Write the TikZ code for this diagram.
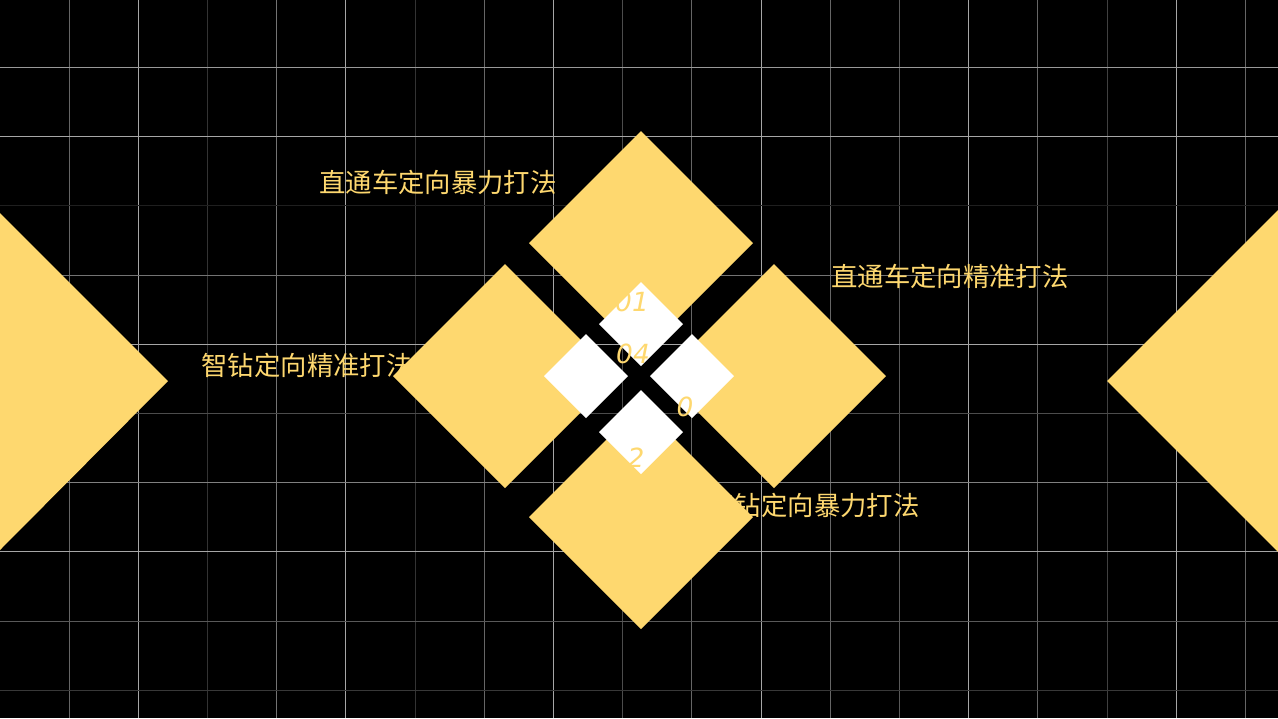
\documentclass[tikz,border=0pt]{standalone}
\usepackage{fontspec}
\newfontfamily\cjk{Noto Sans CJK SC}
\newfontfamily\numfont{DejaVu Sans}
\definecolor{gold}{HTML}{FED86F}
\tikzset{
  gridline/.style={draw=white!#1!black, line width=0.02cm},
  bigtile/.style={fill=gold},
  smalltile/.style={fill=white},
  caption/.style={text=gold, font=\cjk\fontsize{15}{18}\selectfont, inner sep=0pt},
  number/.style={text=gold, font=\numfont\itshape\fontsize{15}{17}\selectfont, inner sep=0pt}
}
\begin{document}
\begin{tikzpicture}[x=0.02cm, y=-0.02cm]
	\fill[black] (0,0) rectangle (1278,718);
	\useasboundingbox (0,0) rectangle (1278,718);
	% grid
	\foreach \k/\b [evaluate=\k as \gx using {int(69.2*\k)+0.5}] in {1/40,2/65,3/20,4/45,5/65,6/20,7/40,8/65,9/30,10/40,11/65,12/40,13/35,14/65,15/40,16/25,17/65,18/40}
		\draw[gridline=\b] (\gx,0) -- (\gx,718);
	\foreach \j/\b [evaluate=\j as \gy using {int(67.5+69.2*(\j-1))+0.5}] in {1/60,2/65,3/12,4/45,5/65,6/30,7/50,8/65,9/35,10/22}
		\draw[gridline=\b] (0,\gy) -- (1278,\gy);
	% captions
	\node[caption] (ztc-bl) at (438,182) {直通车定向暴力打法};
	\node[caption] (ztc-jz) at (950,276) {直通车定向精准打法};
	\node[caption] (zz-jz) at (307,365) {智钻定向精准打法};
	\node[caption] (zz-bl) at (814,505) {智钻定向暴力打法};
	% side tiles
	\fill[bigtile] (0,213) -- (168,381) -- (0,550) -- cycle;
	\fill[bigtile] (1278,210) -- (1107,381) -- (1278,552) -- cycle;
	% big tiles
	\fill[bigtile] (641,131) -- (753,243) -- (641,355) -- (529,243) -- cycle;
	\fill[bigtile] (505,264) -- (617,376) -- (505,488) -- (393,376) -- cycle;
	\fill[bigtile] (774,264) -- (886,376) -- (774,488) -- (662,376) -- cycle;
	\fill[bigtile] (641,405) -- (753,517) -- (641,629) -- (529,517) -- cycle;
	% small tiles
	\fill[smalltile] (641,282) -- (683,324) -- (641,366) -- (599,324) -- cycle;
	\fill[smalltile] (586,334) -- (628,376) -- (586,418) -- (544,376) -- cycle;
	\fill[smalltile] (692,334) -- (734,376) -- (692,418) -- (650,376) -- cycle;
	\fill[smalltile] (641,390) -- (683,432) -- (641,474) -- (599,432) -- cycle;
	% numbers
	\node[number] (n1) at (632,302) {01};
	\node[number] (n4) at (633,354) {04};
	\node[number] (n3) at (685,407) {0};
	\node[number] (n2) at (636,458) {2};
\end{tikzpicture}
\end{document}
